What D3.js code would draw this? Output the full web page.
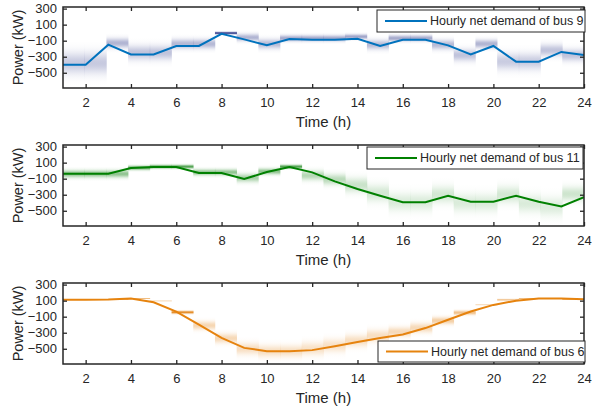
<!DOCTYPE html>
<html>
<head>
<meta charset="utf-8">
<script src="https://cdn.jsdelivr.net/npm/d3@7"></script>
<style>
  body { margin: 0; background: #fff; }
  text { font-family: "Liberation Sans", Arial, sans-serif; fill: #262626; }
</style>
</head>
<body>
<script>
// hours on the x axis
var hours = [1, 2, 3, 4, 5, 6, 7, 8, 9, 10, 11, 12, 13, 14, 15, 16, 17, 18, 19, 20, 21, 22, 23, 24];
var xTicks = [2, 4, 6, 8, 10, 12, 14, 16, 18, 20, 22, 24];
var yTicks = [300, 100, -100, -300, -500];

// bus 9 (kW)
var bus9Demand = [-400, -400, -150, -272, -272, -166, -166, -14, -84, -158, -80, -88,
                  -88, -76, -166, -88, -88, -158, -272, -166, -362, -362, -240, -280];
var bus9BandMean = [-380, -380, -130, -250, -250, -140, -140, -5, -60, -140, -70, -70,
                    -70, -50, -150, -70, -70, -150, -280, -140, -360, -360, -220, -280];
var bus9BandStd = [90, 90, 40, 60, 60, 40, 40, 10, 30, 40, 25, 25,
                   25, 20, 40, 25, 25, 40, 50, 35, 70, 70, 50, 50];
var bus9BandPeak = [0.25, 0.25, 0.35, 0.28, 0.28, 0.33, 0.33, 0.9, 0.35, 0.32, 0.4, 0.4,
                    0.4, 0.42, 0.32, 0.4, 0.4, 0.32, 0.28, 0.35, 0.24, 0.24, 0.28, 0.28];

// bus 11 (kW)
var bus11Demand = [-37, -37, -37, 33, 46, 46, -29, -29, -104, -16, 46, -21,
                   -134, -229, -312, -394, -394, -312, -387, -387, -312, -387, -446, -329];
var bus11BandMean = [-40, -40, -40, 35, 50, 50, -20, -20, -90, -10, 50, -60,
                     -110, -180, -280, -390, -390, -300, -400, -400, -300, -410, -450, -290];
var bus11BandStd = [30, 30, 30, 18, 15, 15, 25, 25, 35, 25, 15, 40,
                    45, 60, 70, 75, 75, 70, 75, 75, 70, 75, 80, 60];
var bus11BandPeak = [0.45, 0.45, 0.45, 0.6, 0.7, 0.7, 0.45, 0.45, 0.35, 0.45, 0.7, 0.3,
                     0.28, 0.22, 0.18, 0.15, 0.15, 0.18, 0.15, 0.15, 0.18, 0.15, 0.14, 0.2];

// bus 6 (kW)
var bus6Demand = [112, 112, 114, 128, 79, -36, -200, -365, -489, -530, -530, -517,
                  -468, -415, -365, -323, -242, -138, -36, 47, 100, 128, 128, 116];
var bus6BandMean = [112, 112, 114, 126, 96, -45, -210, -370, -500, -530, -530, -500,
                    -460, -400, -340, -290, -240, -150, -50, 47, 110, 126, 126, 116];
var bus6BandStd = [4, 4, 4, 4, 4, 12, 35, 40, 50, 50, 50, 55,
                   55, 50, 50, 40, 40, 30, 18, 4, 8, 4, 4, 4];
var bus6BandPeak = [0.5, 0.5, 0.5, 0.5, 0.5, 0.85, 0.3, 0.28, 0.24, 0.24, 0.24, 0.22,
                    0.22, 0.24, 0.24, 0.28, 0.28, 0.35, 0.45, 0.5, 0.45, 0.5, 0.5, 0.5];

var panels = [
  { demand: bus9Demand, mean: bus9BandMean, std: bus9BandStd, peak: bus9BandPeak,
    line: "#0072BD", band: "#1f2a80", label: "Hourly net demand of bus 9",
    top: 7, legend: { x: 377, y: 10, w: 208, h: 22 } },
  { demand: bus11Demand, mean: bus11BandMean, std: bus11BandStd, peak: bus11BandPeak,
    line: "#008000", band: "#0a7d0a", label: "Hourly net demand of bus 11",
    top: 145, legend: { x: 367, y: 147, w: 216, h: 22 } },
  { demand: bus6Demand, mean: bus6BandMean, std: bus6BandStd, peak: bus6BandPeak,
    line: "#E6830E", band: "#e07800", label: "Hourly net demand of bus 6",
    top: 283, legend: { x: 378, y: 341, w: 207, h: 21 } }
];

var W = 592, H = 408, left = 63, right = 584, ph = 81;

var svg = d3.select("body").append("svg")
    .attr("width", W)
    .attr("height", H);
var defs = svg.append("defs");

var x = d3.scaleLinear().domain([1, 24]).range([left, right]);
var colW = 23 / 24;

panels.forEach(function(p, k) {
  var y = d3.scaleLinear().domain([-690, 320]).range([p.top + ph, p.top]);
  var g = svg.append("g");

  defs.append("clipPath").attr("id", "clip" + k)
    .append("rect").attr("x", left).attr("y", p.top)
    .attr("width", right - left).attr("height", ph);

  // distribution bands, one per hour column
  var bands = g.append("g").attr("clip-path", "url(#clip" + k + ")");
  hours.forEach(function(h, i) {
    var id = "grad" + k + "_" + i;
    var grad = defs.append("linearGradient").attr("id", id)
      .attr("x1", 0).attr("y1", 0).attr("x2", 0).attr("y2", 1);
    for (var s = 0; s <= 24; s++) {
      var z = -3 + s * 0.25;
      grad.append("stop")
        .attr("offset", s / 24)
        .attr("stop-color", p.band)
        .attr("stop-opacity", p.peak[i] * Math.exp(-0.5 * z * z));
    }
    var y0 = y(p.mean[i] + 3 * p.std[i]), y1 = y(p.mean[i] - 3 * p.std[i]);
    bands.append("rect")
      .attr("x", x(1 + i * colW))
      .attr("width", x(1 + (i + 1) * colW) - x(1 + i * colW) + 0.3)
      .attr("y", y0)
      .attr("height", y1 - y0)
      .attr("fill", "url(#" + id + ")");
  });

  // demand line
  g.append("path")
    .datum(hours)
    .attr("clip-path", "url(#clip" + k + ")")
    .attr("fill", "none")
    .attr("stroke", p.line)
    .attr("stroke-width", 2)
    .attr("d", d3.line()
      .x(function(d) { return x(d); })
      .y(function(d, i) { return y(p.demand[i]); }));

  // axes, MATLAB box style with inward ticks
  var ax = [
    d3.axisBottom(x).tickValues(xTicks).tickSize(-4).tickPadding(10),
    d3.axisTop(x).tickValues(xTicks).tickSize(-4).tickFormat(""),
    d3.axisLeft(y).tickValues(yTicks).tickSize(-4).tickPadding(6),
    d3.axisRight(y).tickValues(yTicks).tickSize(-4).tickFormat("")
  ];
  var pos = ["translate(0," + (p.top + ph) + ")", "translate(0," + p.top + ")",
             "translate(" + left + ",0)", "translate(" + right + ",0)"];
  ax.forEach(function(a, j) {
    var ag = g.append("g").attr("transform", pos[j]).call(a.tickSizeOuter(0));
    ag.select(".domain").remove();
    ag.selectAll("line").attr("stroke", "#262626").attr("stroke-width", 1.3);
    ag.selectAll("text").attr("font-size", 13).attr("fill", "#262626")
      .style("font-family", '"Liberation Sans", Arial, sans-serif');
  });

  g.append("rect")
    .attr("x", left).attr("y", p.top)
    .attr("width", right - left).attr("height", ph)
    .attr("fill", "none").attr("stroke", "#262626").attr("stroke-width", 1.5);

  g.append("text")
    .attr("x", (left + right) / 2)
    .attr("y", p.top + ph + 39)
    .attr("text-anchor", "middle")
    .attr("font-size", 15)
    .text("Time (h)");

  g.append("text")
    .attr("transform", "translate(18," + (p.top + ph / 2) + ") rotate(-90)")
    .attr("dy", "0.35em")
    .attr("text-anchor", "middle")
    .attr("font-size", 14.5)
    .text("Power (kW)");

  // legend
  var L = p.legend;
  g.append("rect")
    .attr("x", L.x).attr("y", L.y).attr("width", L.w).attr("height", L.h)
    .attr("fill", "#fff").attr("stroke", "#262626").attr("stroke-width", 1);
  g.append("line")
    .attr("x1", L.x + 8).attr("x2", L.x + 50)
    .attr("y1", L.y + L.h / 2).attr("y2", L.y + L.h / 2)
    .attr("stroke", p.line).attr("stroke-width", 2);
  g.append("text")
    .attr("x", L.x + 53).attr("y", L.y + L.h / 2)
    .attr("dy", "0.35em")
    .attr("font-size", 12.5)
    .text(p.label);
});
</script>
</body>
</html>
